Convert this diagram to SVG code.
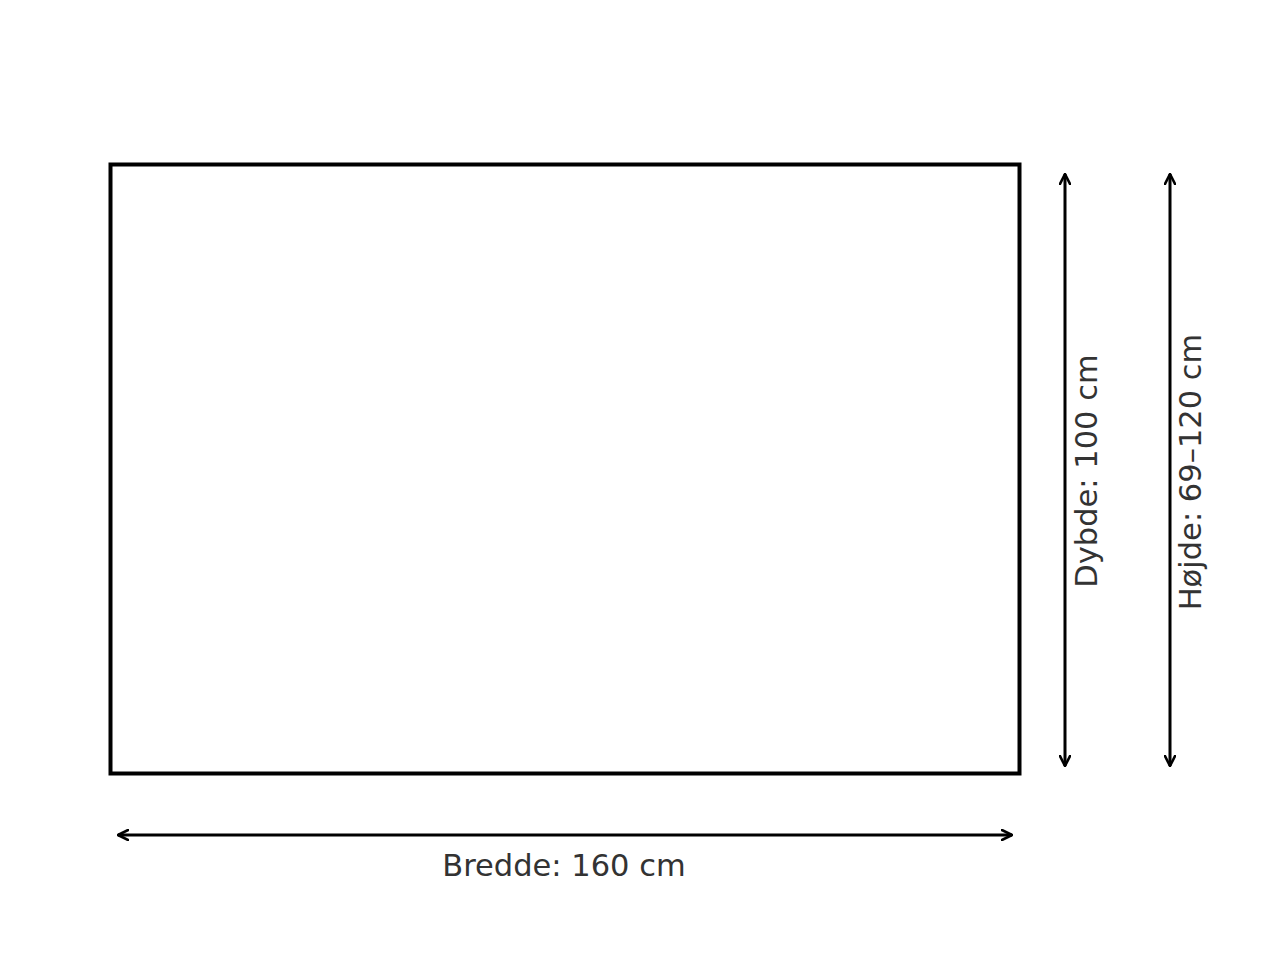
<svg xmlns="http://www.w3.org/2000/svg" width="1280" height="960" viewBox="0 0 1280 960">
<defs>
<marker id="arr" viewBox="0 0 12 12" refX="11" refY="6" markerWidth="12" markerHeight="12" markerUnits="userSpaceOnUse" orient="auto-start-reverse">
<path d="M1,1 L11,6 L1,11" fill="none" stroke="#000" stroke-width="2.6" stroke-linecap="round" stroke-linejoin="round"/>
</marker>
<style>
.dim{stroke:#000;stroke-width:3;fill:none;marker-start:url(#arr);marker-end:url(#arr)}
.lbl{font-family:"DejaVu Sans",sans-serif;font-size:30.5px;fill:#333;text-anchor:middle}
</style>
</defs>
<rect width="1280" height="960" fill="#fff"/>
<g id="table">
<rect x="110.5" y="164.5" width="909" height="609" fill="#fff" stroke="#000" stroke-width="4"/>
</g>
<g id="connectors">
<line class="dim" x1="118" y1="835" x2="1012" y2="835"/>
<line class="dim" x1="1065" y1="174" x2="1065" y2="766"/>
<line class="dim" x1="1170" y1="174" x2="1170" y2="766"/>
</g>
<g id="label-width"><text class="lbl" x="564" y="876">Bredde: 160 cm</text></g>
<g id="label-depth"><text class="lbl" transform="translate(1097,471) rotate(-90)">Dybde: 100 cm</text></g>
<g id="label-height"><text class="lbl" transform="translate(1201,472) rotate(-90)">Højde: 69–120 cm</text></g>
</svg>
